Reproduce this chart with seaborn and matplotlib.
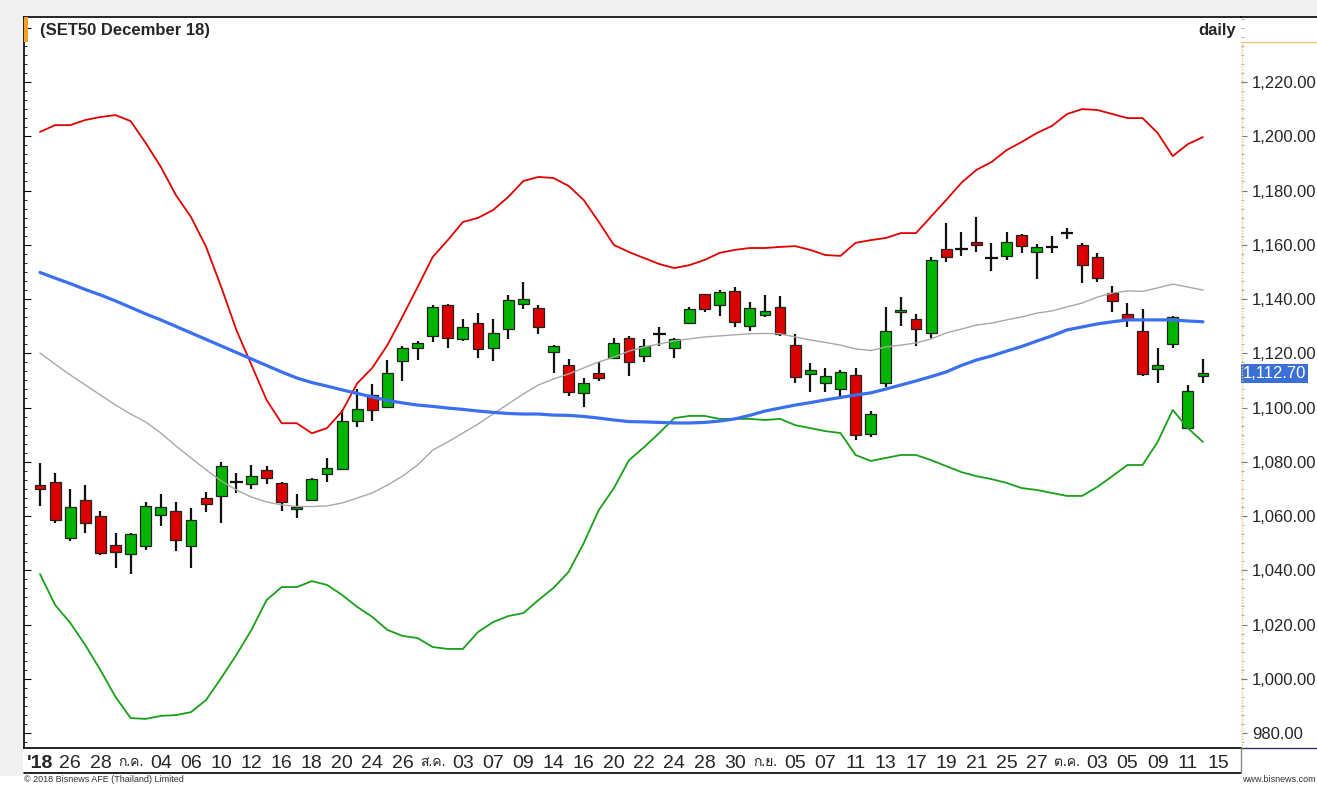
import numpy as np
import pandas as pd
import seaborn as sns
import matplotlib.pyplot as plt
import matplotlib.font_manager as fm
from matplotlib.lines import Line2D
from matplotlib.patches import Rectangle
from matplotlib.ticker import MultipleLocator, FixedLocator, FuncFormatter, NullFormatter

# OHLC values (SET50 futures, daily)
opens = [1071.3, 1072.5, 1051.9, 1065.9, 1060.0, 1049.3, 1046.1, 1049.1, 1060.5, 1061.7,
         1048.8, 1066.7, 1067.2, 1072.4, 1071.9, 1076.8, 1072.2, 1062.7, 1066.0, 1075.5,
         1077.2, 1094.9, 1104.7, 1100.3, 1117.1, 1122.0, 1126.2, 1137.8, 1125.1, 1131.3,
         1122.1, 1128.8, 1138.2, 1136.8, 1120.3, 1115.7, 1105.2, 1112.8, 1118.1, 1125.7,
         1119.0, 1127.0, 1121.8, 1131.3, 1141.7, 1137.8, 1143.0, 1130.0, 1134.1, 1137.2,
         1123.0, 1112.2, 1108.9, 1107.0, 1112.0, 1090.1, 1109.1, 1135.3, 1132.8, 1127.3,
         1158.3, 1158.3, 1161.1, 1155.2, 1156.0, 1163.6, 1157.4, 1159.3, 1164.2, 1159.9,
         1155.6, 1142.1, 1134.3, 1128.2, 1114.2, 1123.3, 1092.3, 1111.6]
highs = [1079.4, 1076.0, 1070.0, 1071.4, 1061.8, 1053.8, 1053.9, 1065.2, 1068.0, 1065.2,
         1062.8, 1068.8, 1079.8, 1076.0, 1078.8, 1078.4, 1072.5, 1068.2, 1074.0, 1081.3,
         1099.1, 1106.7, 1108.7, 1117.5, 1122.7, 1124.6, 1137.9, 1138.0, 1132.8, 1135.0,
         1132.8, 1141.5, 1146.1, 1137.8, 1123.0, 1117.7, 1110.7, 1116.9, 1125.5, 1126.5,
         1125.1, 1129.5, 1125.7, 1136.9, 1142.0, 1143.3, 1144.3, 1139.0, 1141.5, 1141.1,
         1127.0, 1116.3, 1114.4, 1113.8, 1114.4, 1098.7, 1136.9, 1140.6, 1134.5, 1155.4,
         1167.9, 1164.8, 1170.1, 1160.6, 1164.8, 1164.0, 1160.3, 1163.2, 1166.0, 1160.7,
         1156.8, 1144.9, 1138.4, 1136.5, 1121.8, 1133.8, 1108.3, 1117.7]
lows = [1063.8, 1057.6, 1050.9, 1053.6, 1045.6, 1040.7, 1038.8, 1047.5, 1056.4, 1047.2,
        1040.7, 1061.3, 1057.6, 1068.6, 1070.1, 1071.7, 1061.9, 1059.4, 1065.5, 1072.5,
        1077.1, 1092.9, 1094.9, 1100.0, 1109.8, 1117.5, 1124.3, 1122.0, 1124.5, 1118.4,
        1117.1, 1125.1, 1136.5, 1127.0, 1112.8, 1104.2, 1100.3, 1109.8, 1117.8, 1111.7,
        1116.6, 1122.7, 1118.4, 1131.0, 1135.3, 1133.8, 1129.8, 1128.3, 1133.2, 1126.4,
        1108.9, 1105.6, 1105.8, 1104.0, 1088.2, 1089.2, 1107.7, 1130.0, 1122.7, 1125.5,
        1153.8, 1156.0, 1157.2, 1150.3, 1154.4, 1156.8, 1147.2, 1156.8, 1162.3, 1146.0,
        1146.4, 1135.3, 1129.8, 1111.7, 1108.9, 1121.8, 1092.0, 1108.9]
closes = [1070.0, 1058.6, 1063.3, 1057.3, 1046.2, 1046.9, 1053.2, 1063.6, 1063.3, 1051.0,
          1058.7, 1064.4, 1078.3, 1072.4, 1074.6, 1074.1, 1065.3, 1063.4, 1073.6, 1077.8,
          1095.2, 1099.6, 1099.2, 1112.6, 1121.8, 1123.8, 1137.2, 1125.7, 1129.5, 1121.4,
          1127.6, 1139.5, 1139.9, 1129.8, 1122.7, 1105.8, 1108.9, 1111.0, 1123.6, 1116.6,
          1122.8, 1127.0, 1125.3, 1136.5, 1136.5, 1142.7, 1131.7, 1136.8, 1135.6, 1127.1,
          1111.4, 1113.8, 1111.6, 1113.2, 1089.9, 1097.5, 1128.2, 1136.1, 1128.8, 1154.4,
          1155.6, 1158.3, 1159.9, 1155.2, 1161.1, 1159.5, 1159.3, 1159.3, 1164.2, 1152.5,
          1147.9, 1139.4, 1132.8, 1112.4, 1115.7, 1133.2, 1106.1, 1112.7]

# Bollinger bands and moving averages
bb_upper = [1201.6, 1204.1, 1204.1, 1206.0, 1207.1, 1207.8, 1205.6, 1197.5, 1188.7, 1178.3,
            1170.2, 1159.2, 1144.4, 1128.6, 1115.7, 1102.8, 1094.2, 1094.2, 1090.5, 1092.4,
            1098.6, 1108.9, 1114.6, 1123.0, 1133.5, 1144.4, 1155.5, 1161.7, 1168.4, 1169.9,
            1172.8, 1177.6, 1183.5, 1185.0, 1184.6, 1181.7, 1176.5, 1168.4, 1159.9, 1157.3,
            1155.1, 1152.9, 1151.4, 1152.5, 1154.4, 1157.0, 1158.1, 1158.8, 1158.8, 1159.2,
            1159.5, 1158.1, 1156.2, 1155.9, 1160.7, 1161.7, 1162.5, 1164.3, 1164.3, 1170.4,
            1176.5, 1182.8, 1187.6, 1190.5, 1194.9, 1197.9, 1201.2, 1203.8, 1208.2, 1210.0,
            1209.7, 1208.2, 1206.7, 1206.7, 1201.2, 1192.7, 1197.1, 1199.7]
bb_lower = [1038.6, 1027.2, 1020.6, 1012.4, 1003.2, 993.3, 985.5, 985.2, 986.3, 986.6,
            987.7, 992.2, 1000.3, 1008.8, 1018.0, 1029.0, 1033.8, 1033.8, 1036.0, 1034.6,
            1030.9, 1026.5, 1022.8, 1018.0, 1015.8, 1015.0, 1011.7, 1011.0, 1011.0, 1017.2,
            1020.9, 1023.1, 1024.2, 1029.0, 1033.5, 1039.4, 1050.0, 1062.2, 1070.3, 1080.6,
            1085.4, 1090.6, 1096.1, 1096.9, 1096.9, 1095.8, 1095.8, 1095.8, 1095.4, 1095.8,
            1093.5, 1092.4, 1091.3, 1090.6, 1082.5, 1080.3, 1081.4, 1082.5, 1082.5, 1080.6,
            1078.4, 1076.2, 1074.7, 1073.6, 1072.2, 1070.3, 1069.6, 1068.5, 1067.4, 1067.4,
            1070.7, 1074.7, 1078.8, 1078.8, 1087.3, 1099.1, 1092.4, 1087.3]
bb_mid = [1120.1, 1116.0, 1112.0, 1108.3, 1104.6, 1100.9, 1097.6, 1094.7, 1090.6, 1085.8,
          1081.4, 1077.0, 1072.9, 1069.6, 1067.0, 1065.2, 1064.1, 1063.5, 1063.5, 1063.7,
          1064.8, 1066.6, 1068.5, 1071.4, 1074.7, 1078.8, 1084.3, 1087.3, 1090.6, 1093.9,
          1097.6, 1101.3, 1105.0, 1108.3, 1110.5, 1112.4, 1114.6, 1116.8, 1118.6, 1120.8,
          1122.3, 1123.4, 1124.6, 1125.3, 1126.0, 1126.4, 1126.8, 1127.2, 1127.3, 1127.2,
          1126.0, 1124.9, 1124.0, 1123.0, 1121.6, 1121.0, 1122.3, 1123.0, 1123.8, 1125.3,
          1127.5, 1128.9, 1130.4, 1131.1, 1132.3, 1133.4, 1134.8, 1135.6, 1137.1, 1138.5,
          1140.7, 1142.2, 1143.0, 1142.8, 1144.1, 1145.5, 1144.4, 1143.3]
ma_blue = [1149.8, 1147.7, 1145.7, 1143.5, 1141.5, 1139.3, 1136.9, 1134.5, 1132.3, 1129.9,
           1127.5, 1125.1, 1122.7, 1120.3, 1117.9, 1115.5, 1113.1, 1110.9, 1109.2, 1107.9,
           1106.5, 1105.2, 1103.9, 1102.6, 1101.7, 1100.9, 1100.4, 1099.8, 1099.3, 1098.7,
           1098.2, 1097.8, 1097.6, 1097.6, 1097.2, 1097.1, 1096.7, 1096.1, 1095.4, 1094.8,
           1094.7, 1094.5, 1094.3, 1094.3, 1094.5, 1095.0, 1095.8, 1097.1, 1098.7, 1099.8,
           1100.9, 1101.8, 1102.8, 1103.7, 1104.6, 1105.4, 1106.8, 1108.3, 1109.8, 1111.4,
           1113.1, 1115.5, 1117.5, 1119.0, 1120.8, 1122.5, 1124.5, 1126.4, 1128.6, 1129.7,
           1130.8, 1131.6, 1132.3, 1132.3, 1132.3, 1132.3, 1131.9, 1131.6]

# x-axis labels, one every second session
x_labels = ["'18", '26', '28', 'ก.ค.', '04', '06', '10', '12', '16', '18', '20', '24', '26',
            'ส.ค.', '03', '07', '09', '14', '16', '20', '22', '24', '28', '30', 'ก.ย.',
            '05', '07', '11', '13', '17', '19', '21', '25', '27', 'ต.ค.', '03', '05', '09',
            '11', '15']
y_ticks = [980, 1000, 1020, 1040, 1060, 1080, 1100, 1120, 1140, 1160, 1180, 1200, 1220]
last_price = 1112.70

df = pd.DataFrame({'i': np.arange(len(closes)), 'open': opens, 'high': highs,
                   'low': lows, 'close': closes, 'upper': bb_upper, 'lower': bb_lower,
                   'mid': bb_mid, 'ma': ma_blue})

sns.set_style('white')

# find a font that can draw Thai
thai_font = None
try:
    from fontTools.ttLib import TTFont
    for f in fm.fontManager.ttflist:
        try:
            cmap = TTFont(f.fname, fontNumber=0, lazy=True).getBestCmap()
            if cmap and 0x0E01 in cmap:
                thai_font = f.name
                break
        except Exception:
            pass
except Exception:
    pass

names = {f.name for f in fm.fontManager.ttflist}
base = 'Liberation Sans' if 'Liberation Sans' in names else 'DejaVu Sans'
narrow = 'Liberation Sans Narrow' if 'Liberation Sans Narrow' in names else base
fam = [base] + ([thai_font] if thai_font else []) + ['DejaVu Sans']
fam_narrow = [narrow] + ([thai_font] if thai_font else []) + ['DejaVu Sans']
plt.rcParams['font.family'] = fam

W, H = 1317, 785
fig = plt.figure(figsize=(W / 100, H / 100), dpi=100)
fig.patch.set_facecolor('white')

# grey frame at top and left
fig.patches.append(Rectangle((0, 1 - 16 / H), 1, 16 / H, transform=fig.transFigure,
                             facecolor='#f0f0f0', edgecolor='none', zorder=0))
fig.patches.append(Rectangle((0, 1 - 776 / H), 23 / W, 760 / H, transform=fig.transFigure,
                             facecolor='#f0f0f0', edgecolor='none', zorder=0))

ax = fig.add_axes([24 / W, 1 - 748 / H, (1241 - 24) / W, (748 - 17) / H])
ax.set_facecolor('white')

# candles
up = df['close'] >= df['open']
doji = (df['close'] - df['open']).abs() < 0.05
body_lo = df[['open', 'close']].min(axis=1)
body_h = (df['close'] - df['open']).abs()
colors = np.where(up, '#00b400', '#dd0000')

ax.vlines(df['i'], df['low'], df['high'], color='#111111', lw=1.6, zorder=2)
nd = ~doji
ax.bar(df['i'][nd], body_h[nd], bottom=body_lo[nd], width=0.72, color=colors[nd],
       edgecolor='#222222', linewidth=0.9, zorder=3)
ax.hlines(df['close'][doji], df['i'][doji] - 0.42, df['i'][doji] + 0.42,
          color='#111111', lw=1.6, zorder=3)

# bands and averages on top of the candles
sns.lineplot(data=df, x='i', y='mid', color='#a8a8a8', lw=1.0, ax=ax, zorder=4)
sns.lineplot(data=df, x='i', y='upper', color='#e00000', lw=1.3, ax=ax, zorder=4)
sns.lineplot(data=df, x='i', y='lower', color='#18a018', lw=1.3, ax=ax, zorder=4)
sns.lineplot(data=df, x='i', y='ma', color='#3a6ff0', lw=2.3, ax=ax, zorder=5)

ax.set_xlim(-1.06, 79.52)
ax.set_ylim(974.47, 1243.97)
ax.set_xlabel('')
ax.set_ylabel('')

for s in ['top', 'left', 'bottom']:
    ax.spines[s].set_color('black')
    ax.spines[s].set_linewidth(1.2)
ax.spines['right'].set_visible(False)

# right price scale
ax.yaxis.tick_right()
ax.yaxis.set_major_locator(FixedLocator(y_ticks))
ax.yaxis.set_minor_locator(MultipleLocator(20 / 6))
ax.yaxis.set_major_formatter(FuncFormatter(lambda v, p: f'{v:,.2f}'))
ax.tick_params(axis='y', which='major', direction='out', length=4, width=0.8,
               color='#777777', labelsize=12, pad=4, right=True, left=False,
               labelright=True, labelleft=False)
ax.tick_params(axis='y', which='minor', direction='out', length=2, width=0.6,
               color='#999999', right=True, left=False)

# left scale ticks (inside, unlabeled)
sec = ax.secondary_yaxis('left')
sec.yaxis.set_major_locator(MultipleLocator(20))
sec.yaxis.set_minor_locator(MultipleLocator(20 / 6))
sec.yaxis.set_major_formatter(NullFormatter())
sec.tick_params(axis='y', which='major', direction='in', length=5, width=0.8, color='black')
sec.tick_params(axis='y', which='minor', direction='in', length=2.5, width=0.6, color='black')
sec.spines['left'].set_visible(False)

# x-axis labels
ax.set_xticks(np.arange(0, 2 * len(x_labels), 2))
ax.set_xticklabels(x_labels)
ax.tick_params(axis='x', direction='out', length=3, width=0.8, color='black', pad=2)
for t in ax.get_xticklabels():
    txt = t.get_text()
    t.set_fontfamily(fam_narrow)
    if '.' in txt:
        t.set_fontsize(10)
    else:
        t.set_fontsize(14)
    if txt.startswith("'"):
        t.set_fontweight('bold')

# frame pieces outside the plot
fig.add_artist(Line2D([1241 / W, 1], [1 - 17 / H] * 2, color='black', lw=1.2))
fig.add_artist(Line2D([24 / W, 1241 / W], [1 - 773 / H] * 2, color='black', lw=1.2))
fig.add_artist(Line2D([1241 / W, 1], [1 - 748 / H] * 2, color='#333366', lw=1.0))
fig.add_artist(Line2D([1241 / W, 1241 / W], [1 - 773 / H, 1 - 748 / H], color='#888888', lw=1.0))
fig.add_artist(Line2D([1241.5 / W, 1241.5 / W], [1 - 745 / H, 1 - 42 / H], color='#f0c070',
                      lw=1.0, ls=(0, (1, 1))))
fig.add_artist(Line2D([1241 / W, 1], [1 - 42 / H] * 2, color='#f0c070', lw=0.8))
fig.patches.append(Rectangle((24 / W, 1 - 42 / H), 4 / W, 25 / H, transform=fig.transFigure,
                             facecolor='#f7a023', edgecolor='none', zorder=5))

# titles
fig.text(40 / W, 1 - 30 / H, '(SET50 December 18)', fontsize=12, fontweight='bold',
         va='center', ha='left')
fig.text(1236 / W, 1 - 30 / H, 'daily', fontsize=12, fontweight='bold', va='center', ha='right')

# last price marker
ax.text(1.0015, last_price, f'{last_price:,.2f}', transform=ax.get_yaxis_transform(),
        ha='left', va='center', fontsize=12, color='white', clip_on=False, zorder=10,
        bbox=dict(boxstyle='square,pad=0.12', facecolor='#3a6fd8', edgecolor='none'))

# footer
fig.text(24 / W, 1 - 780 / H, '© 2018 Bisnews AFE (Thailand) Limited', fontsize=6.5,
         va='center', ha='left', color='#333333')
fig.text(1316 / W, 1 - 780 / H, 'www.bisnews.com', fontsize=6.5, va='center', ha='right',
         color='#333333')

fig.savefig('out.png', dpi=100, facecolor=fig.get_facecolor())
plt.close(fig)
